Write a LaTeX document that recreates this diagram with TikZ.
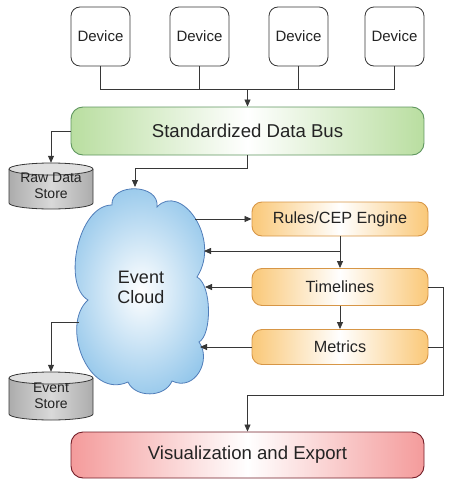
\documentclass[tikz,border=0pt]{standalone}
\usepackage{fontspec}
\setmainfont{Liberation Sans}
\usetikzlibrary{arrows.meta,calc}
\definecolor{txt}{RGB}{35,35,35}
\definecolor{ln}{RGB}{55,55,55}
\definecolor{greenE}{RGB}{185,222,160}
\definecolor{greenB}{RGB}{95,150,95}
\definecolor{orE}{RGB}{250,200,120}
\definecolor{orB}{RGB}{215,150,70}
\definecolor{redE}{RGB}{244,155,155}
\definecolor{redB}{RGB}{115,30,40}
\definecolor{cloudE}{RGB}{150,200,235}
\definecolor{cloudB}{RGB}{80,125,185}
\tikzset{
  conn/.style={draw=ln, line width=0.8pt},
  arr/.style={conn, -{Triangle[length=7pt,width=6pt]}},
  devbox/.style={draw=ln, line width=0.8pt, fill=white, rounded corners=9pt, minimum width=59pt, minimum height=59pt, inner sep=0pt, text=txt, font=\fontsize{15}{18}\selectfont},
  busbox/.style={draw=greenB, line width=0.9pt, left color=greenE, right color=greenE, middle color=white, rounded corners=12pt, minimum width=353pt, minimum height=48pt, inner sep=0pt, text=txt, font=\fontsize{18.6}{22}\selectfont},
  orbox/.style={draw=orB, line width=0.9pt, left color=orE, right color=orE, middle color=white, rounded corners=10pt, minimum width=176pt, inner sep=0pt, text=txt, font=\fontsize{16.2}{19}\selectfont},
  vizbox/.style={draw=redB, line width=0.9pt, left color=redE, right color=redE, middle color=white, rounded corners=12pt, minimum width=353pt, minimum height=46pt, inner sep=0pt, text=txt, font=\fontsize{18.6}{22}\selectfont},
  storebox/.style={minimum width=84pt, inner sep=0pt, align=center, text=txt, font=\fontsize{14}{16}\selectfont},
  cylbody/.style={draw=ln, line width=0.8pt, left color=gray!65, right color=gray!65, middle color=gray!30},
  cyltop/.style={draw=ln, line width=0.8pt, fill=gray!25},
}
\begin{document}
\begin{tikzpicture}[x=1pt,y=-1pt]
\useasboundingbox (0,0) rectangle (457,490);
% devices
\node[devbox] (dev1) at (100.5,36.5) {Device};
\node[devbox] (dev2) at (199.5,36.5) {Device};
\node[devbox] (dev3) at (298.5,36.5) {Device};
\node[devbox] (dev4) at (394.5,36.5) {Device};
% bus
\node[busbox] (bus) at (247.5,131) {Standardized Data Bus};
% stores (cylinders)
\draw[cylbody] (9,169) -- (9,203) arc[start angle=180,end angle=0,x radius=42,y radius=6] -- (93,169);
\draw[cyltop] (51,169) ellipse[x radius=42,y radius=6];
\node[storebox, minimum height=46pt] (raw) at (51,186) {Raw Data\\Store};
\draw[cylbody] (9,378) -- (9,414) arc[start angle=180,end angle=0,x radius=42,y radius=6] -- (93,378);
\draw[cyltop] (51,378) ellipse[x radius=42,y radius=6];
\node[storebox, minimum height=48pt] (evst) at (51,396) {Event\\Store};
% cloud
\draw[draw=cloudB, line width=0.8pt, inner color=white, outer color=cloudE]
  (112,205) .. controls (110,183) and (160,183) .. (157,207)
  .. controls (180,182) and (222,238) .. (197,277)
  .. controls (212,285) and (212,335) .. (199,342)
  .. controls (212,360) and (195,392) .. (172,381)
  .. controls (165,398) and (135,398) .. (128,382)
  .. controls (88,400) and (60,325) .. (88,300)
  .. controls (62,285) and (78,205) .. (112,205) -- cycle;
\node[align=center, text=txt, font=\fontsize{18}{20}\selectfont] (cloud) at (141,287) {Event\\Cloud};
\coordinate (cltop) at (135,187);
\coordinate (clr1) at (195,219);
\coordinate (clr2) at (204,251);
\coordinate (clr3) at (205,287);
\coordinate (clr4) at (200,347);
\coordinate (cll) at (79,322);
% processing boxes
\node[orbox, minimum height=34pt] (rules) at (340,219) {Rules/CEP Engine};
\node[orbox, minimum height=37pt] (time) at (340,287) {Timelines};
\node[orbox, minimum height=35pt] (metr) at (340,347) {Metrics};
% visualization
\node[vizbox] (viz) at (247.5,455) {Visualization and Export};
% connectors
\coordinate (jn) at (247.5,89);
\draw[conn] (dev1.south) |- (jn);
\draw[conn] (dev4.south) |- (jn);
\draw[conn] (dev2.south) -- (dev2.south |- jn);
\draw[conn] (dev3.south) -- (dev3.south |- jn);
\draw[arr] (jn) -- (bus.north);
\draw[arr] (bus.west) -| (raw.north);
\draw[arr] (bus.south) -- ++(0,13) -| (cltop);
\draw[arr] (clr1) -- (rules.west);
\draw[arr] (rules.south) -- (time.north);
\coordinate (rb) at (340,251);
\draw[arr] (rb) -- (clr2);
\draw[arr] (time.west) -- (clr3);
\draw[arr] (time.south) -- (metr.north);
\draw[arr] (metr.west) -- (clr4);
\coordinate (rc) at (443,395);
\draw[arr] (time.east) -| (rc) -| (viz.north);
\draw[conn] (metr.east) -- (metr.east -| rc);
\draw[arr] (cll) -| (evst.north);
\end{tikzpicture}
\end{document}
